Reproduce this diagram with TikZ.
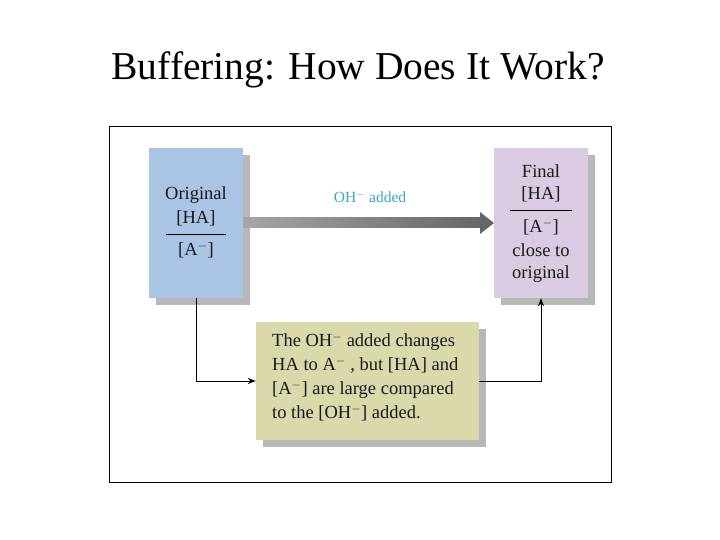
\documentclass[tikz,border=0pt]{standalone}
\usepackage{fontspec}
\setmainfont{Liberation Serif}
\usetikzlibrary{arrows.meta,shadows}
\definecolor{boxblue}{HTML}{A9C4E4}
\definecolor{boxpurple}{HTML}{D9CBE1}
\definecolor{boxyellow}{HTML}{D9D9AB}
\definecolor{lblcyan}{HTML}{3AA6C8}
\tikzset{
 panel/.style={draw=none,drop shadow={shadow xshift=7pt,shadow yshift=-7pt,fill=gray!70,opacity=0.8}},
 btxt/.style={font=\fontsize{18.5}{24}\selectfont,align=center,text=black!90},
 conn/.style={-{Stealth[length=8pt,width=6pt]},line width=0.8pt},
}
\begin{document}
\begin{tikzpicture}[x=1pt,y=-1pt]
\useasboundingbox (0,0) rectangle (720,540);
\node (title) at (358,70) {\fontsize{39.5}{44}\selectfont Buffering: How Does It Work?};
\draw[line width=0.8pt] (109,126) rectangle (611,482);
\node[panel,fill=boxblue,minimum width=94pt,minimum height=150pt,inner sep=0] (orig) at (196,223) {};
\node[panel,fill=boxpurple,minimum width=94pt,minimum height=150pt,inner sep=0] (fin) at (541,223) {};
\node[panel,fill=boxyellow,minimum width=223pt,minimum height=118pt,inner sep=0] (mid) at (367.5,381) {};
\node[btxt] (t1) at (196,195) {Original};
\node[btxt] (t2) at (196,218) {[HA]};
\draw[line width=0.8pt] (166,234) -- (226,234);
\node[btxt] (t3) at (196,250) {[A$^{-}$]};
\node[btxt] (f1) at (541,171) {Final};
\node[btxt] (f2) at (541,194) {[HA]};
\draw[line width=0.8pt] (510,210) -- (572,210);
\node[btxt] (f3) at (541,227) {[A$^{-}$]};
\node[btxt] (f4) at (541,250) {close to};
\node[btxt] (f5) at (541,274) {original};
\node[btxt,align=left,anchor=north west,inner sep=0] (mt) at (272,333) {The OH$^{-}$ added changes\\HA to A$^{-}$ , but [HA] and\\{}[A$^{-}$] are large compared\\to the [OH$^{-}$] added.};
\node[text=lblcyan,font=\fontsize{15.5}{18}\selectfont] (lbl) at (370,197) {OH$^{-}$ added};
\shade[left color=gray!70,right color=black!60] (243,218) rectangle (482,228);
\coordinate (ah) at (494,223);
\fill[black!60] (480,212) -- (ah) -- (480,234) -- cycle;
\draw[conn] (orig.south) |- (mid.west);
\draw[conn] (mid.east) -| (fin.south);
\end{tikzpicture}
\end{document}
